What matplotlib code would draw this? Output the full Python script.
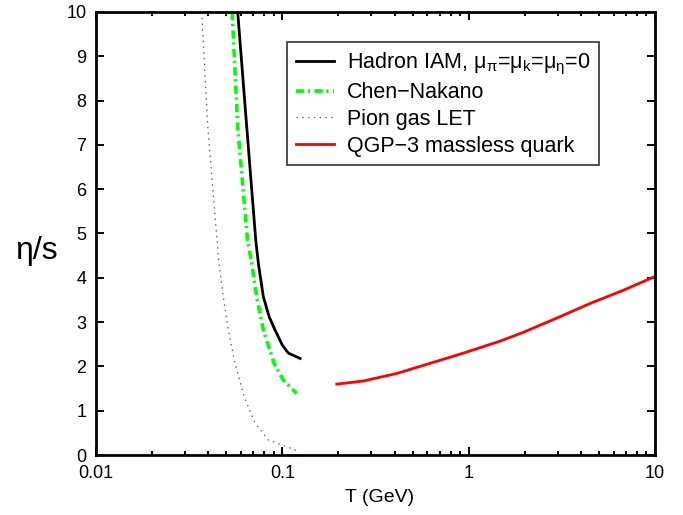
import matplotlib
matplotlib.use("Agg")
import matplotlib.pyplot as plt
from matplotlib.ticker import LogLocator, FixedLocator, NullFormatter, FixedFormatter

plt.rcParams['font.family'] = ['Liberation Sans', 'DejaVu Sans']
plt.rcParams['mathtext.fontset'] = 'custom'
plt.rcParams['mathtext.rm'] = 'Liberation Sans'
plt.rcParams['mathtext.it'] = 'Liberation Sans'

# Hadron IAM
T_iam = [0.0576, 0.0644, 0.0720, 0.0745, 0.0791, 0.0850, 0.0914, 0.1000, 0.1077, 0.1245]
eta_iam = [10.0, 7.41, 4.85, 4.30, 3.57, 3.12, 2.82, 2.48, 2.30, 2.18]
# Chen-Nakano
T_cn = [0.0538, 0.0576, 0.0650, 0.0685, 0.0729, 0.0791, 0.0903, 0.1012, 0.1195]
eta_cn = [10.0, 7.41, 4.85, 4.33, 3.57, 2.82, 2.07, 1.69, 1.39]
# Pion gas LET
T_let = [0.0369, 0.0398, 0.0444, 0.0457, 0.0482, 0.0513, 0.0557, 0.0623, 0.0714, 0.0841, 0.1229]
eta_let = [10.0, 7.41, 4.95, 4.33, 3.57, 2.82, 2.07, 1.32, 0.72, 0.34, 0.08]
# QGP
T_qgp = [0.196, 0.272, 0.411, 0.621, 0.937, 1.474, 1.966, 2.97, 4.48, 6.77, 10.0]
eta_qgp = [1.60, 1.67, 1.84, 2.07, 2.30, 2.57, 2.77, 3.09, 3.42, 3.72, 4.03]

xticks = [0.01, 0.1, 1, 10]
xticklabels = ['0.01', '0.1', '1', '10']
yticks = list(range(0, 11))

fig = plt.figure(figsize=(6.83, 5.15), dpi=100)
ax = fig.add_axes([96/683, 60/515, (655-96)/683, (455-12)/515])

ax.plot(T_iam, eta_iam, color='black', lw=2.0,
        label='Hadron IAM, μ$_\\mathregular{π}$=μ$_\\mathregular{k}$=μ$_\\mathregular{η}$=0')
ax.plot(T_cn, eta_cn, color='#00ff00', lw=2.6, dashes=(2.3, 1.0, 0.6, 1.2), label='Chen\u2212Nakano')
ax.plot(T_let, eta_let, color='#5050ff', lw=0.9, dashes=(1.2, 3.4), label='Pion gas LET')
ax.plot(T_qgp, eta_qgp, color='red', lw=2.0, label='QGP\u22123 massless quark')

ax.set_xscale('log')
ax.set_xlim(0.01, 10)
ax.set_ylim(0, 10)
ax.xaxis.set_major_locator(FixedLocator(xticks))
ax.xaxis.set_major_formatter(FixedFormatter(xticklabels))
ax.xaxis.set_minor_locator(LogLocator(base=10, subs=range(2, 10)))
ax.xaxis.set_minor_formatter(NullFormatter())
ax.set_yticks(yticks)
ax.tick_params(which='both', direction='in', top=True, right=True, labelsize=13, width=1.4)
ax.tick_params(which='major', length=6)
ax.tick_params(which='minor', length=3)
ax.tick_params(axis='x', pad=7)
ax.tick_params(axis='y', pad=7)
for s in ax.spines.values():
    s.set_linewidth(2.0)

fig.text(380/683, 1 - 497/515, 'T (GeV)', fontsize=14, ha='center', va='center')
fig.text(37/683, 1 - 251/515, 'η/s', fontsize=23, ha='center', va='center')

leg = ax.legend(loc='upper left', bbox_to_anchor=(287/683, 1 - 42/515),
                bbox_transform=fig.transFigure, borderaxespad=0, fontsize=15.5,
                frameon=True, fancybox=False, edgecolor='black', handlelength=1.8,
                handletextpad=0.6, borderpad=0.4, labelspacing=0.26)
leg.get_frame().set_linewidth(1.2)

fig.savefig('out.png', dpi=100)
